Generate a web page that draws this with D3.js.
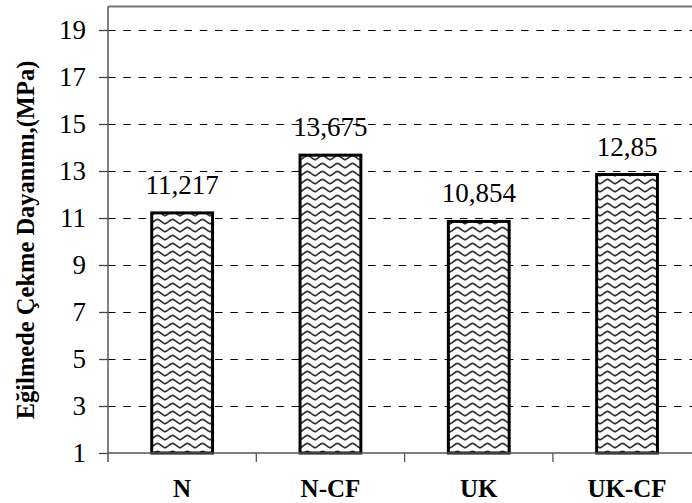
<!DOCTYPE html>
<html>
<head>
<meta charset="utf-8">
<script src="https://cdn.jsdelivr.net/npm/d3@7"></script>
<style>
  html, body { margin: 0; padding: 0; background: #fff; }
  svg { display: block; }
  text { font-family: "Liberation Serif", "Times New Roman", Times, serif; fill: #000; }
</style>
</head>
<body>
<svg id="chart" width="692" height="503"></svg>
<script>
// ---- data ----
const categories = ["N", "N-CF", "UK", "UK-CF"];
const values = [11.217, 13.675, 10.854, 12.85];
const valueLabels = ["11,217", "13,675", "10,854", "12,85"];
const yTicks = [1, 3, 5, 7, 9, 11, 13, 15, 17, 19];
const yTitle = "Eğilmede Çekme Dayanımı,(MPa)";

(function () {
// ---- layout ----
const W = 692, H = 503;
const mLeft = 108, mBottom = 453, mTop = 6.5;
const step = 148.3;
const svg = d3.select("#chart");

const x = d3.scaleBand().domain(categories).range([mLeft, mLeft + step * categories.length]).padding(0);
const y = d3.scaleLinear().domain([1, 20]).range([mBottom, mTop]);
const barFrac = 0.41;

// pattern
const defs = svg.append("defs");
const pat = defs.append("pattern")
  .attr("id", "wave")
  .attr("patternUnits", "userSpaceOnUse")
  .attr("width", 15).attr("height", 8)
  .attr("x", 0).attr("y", 2);
pat.append("rect").attr("width", 15).attr("height", 8).attr("fill", "#fff");
pat.append("path")
  .attr("d", "M-0.5,5.8 C2.5,5.8 5,1.3 7.5,1.3 C10,1.3 12.5,5.8 15.5,5.8")
  .attr("fill", "none").attr("stroke", "#333").attr("stroke-width", 1.8);

// gridlines
svg.append("g").selectAll("line")
  .data(yTicks.filter(t => t !== 1))
  .join("line")
  .attr("x1", mLeft).attr("x2", W)
  .attr("y1", d => Math.round(y(d)) + 0.5).attr("y2", d => Math.round(y(d)) + 0.5)
  .attr("stroke", "#000").attr("stroke-width", 1.1)
  .attr("stroke-dasharray", "7.5,7.8");

// top border
svg.append("line")
  .attr("x1", mLeft).attr("x2", W)
  .attr("y1", y(20)).attr("y2", y(20))
  .attr("stroke", "#777").attr("stroke-width", 2);

// y axis
const yAxis = d3.axisLeft(y).tickValues(yTicks).tickSize(9).tickSizeOuter(0).tickPadding(13)
  .tickFormat(d3.format("d"));
const gy = svg.append("g").attr("transform", `translate(${mLeft},0)`).call(yAxis);
gy.select(".domain").remove();
gy.selectAll(".tick line").attr("stroke", "#444").attr("stroke-width", 1.3);
gy.selectAll(".tick text").style("font-size", "27px")
  .style("font-family", "'Liberation Serif', 'Times New Roman', serif").attr("fill", "#000");

const rows = categories.map((c, i) => ({ c, v: values[i], l: valueLabels[i] }));

// bars
svg.append("g").selectAll("rect")
  .data(rows)
  .join("rect")
  .attr("x", d => x(d.c) + x.bandwidth() * (1 - barFrac) / 2)
  .attr("width", x.bandwidth() * barFrac)
  .attr("y", d => y(d.v))
  .attr("height", d => y(1) - y(d.v))
  .attr("fill", "url(#wave)")
  .attr("stroke", "#000").attr("stroke-width", 3);

// value labels
svg.append("g").selectAll("text")
  .data(rows)
  .join("text")
  .attr("x", d => x(d.c) + x.bandwidth() / 2)
  .attr("y", d => y(d.v) - 19)
  .attr("text-anchor", "middle")
  .style("font-size", "27px")
  .text(d => d.l);

// axis lines
svg.append("line").attr("x1", mLeft).attr("x2", mLeft).attr("y1", mTop).attr("y2", mBottom + 9)
  .attr("stroke", "#555").attr("stroke-width", 1.5);
svg.append("line").attr("x1", mLeft).attr("x2", W).attr("y1", mBottom).attr("y2", mBottom)
  .attr("stroke", "#555").attr("stroke-width", 1.5);

// x boundary ticks
svg.append("g").selectAll("line")
  .data(categories.slice(1))
  .join("line")
  .attr("x1", d => x(d)).attr("x2", d => x(d))
  .attr("y1", mBottom).attr("y2", mBottom + 9)
  .attr("stroke", "#555").attr("stroke-width", 1.3);

// x labels
svg.append("g").selectAll("text")
  .data(categories)
  .join("text")
  .attr("x", d => x(d) + x.bandwidth() / 2)
  .attr("y", 497)
  .attr("text-anchor", "middle")
  .style("font-size", "25px").style("font-weight", "bold")
  .text(d => d);

// y title
svg.append("text")
  .attr("transform", "translate(34,240) rotate(-90)")
  .attr("text-anchor", "middle")
  .style("font-size", "24.5px").style("font-weight", "bold")
  .text(yTitle);
})();
</script>
</body>
</html>
